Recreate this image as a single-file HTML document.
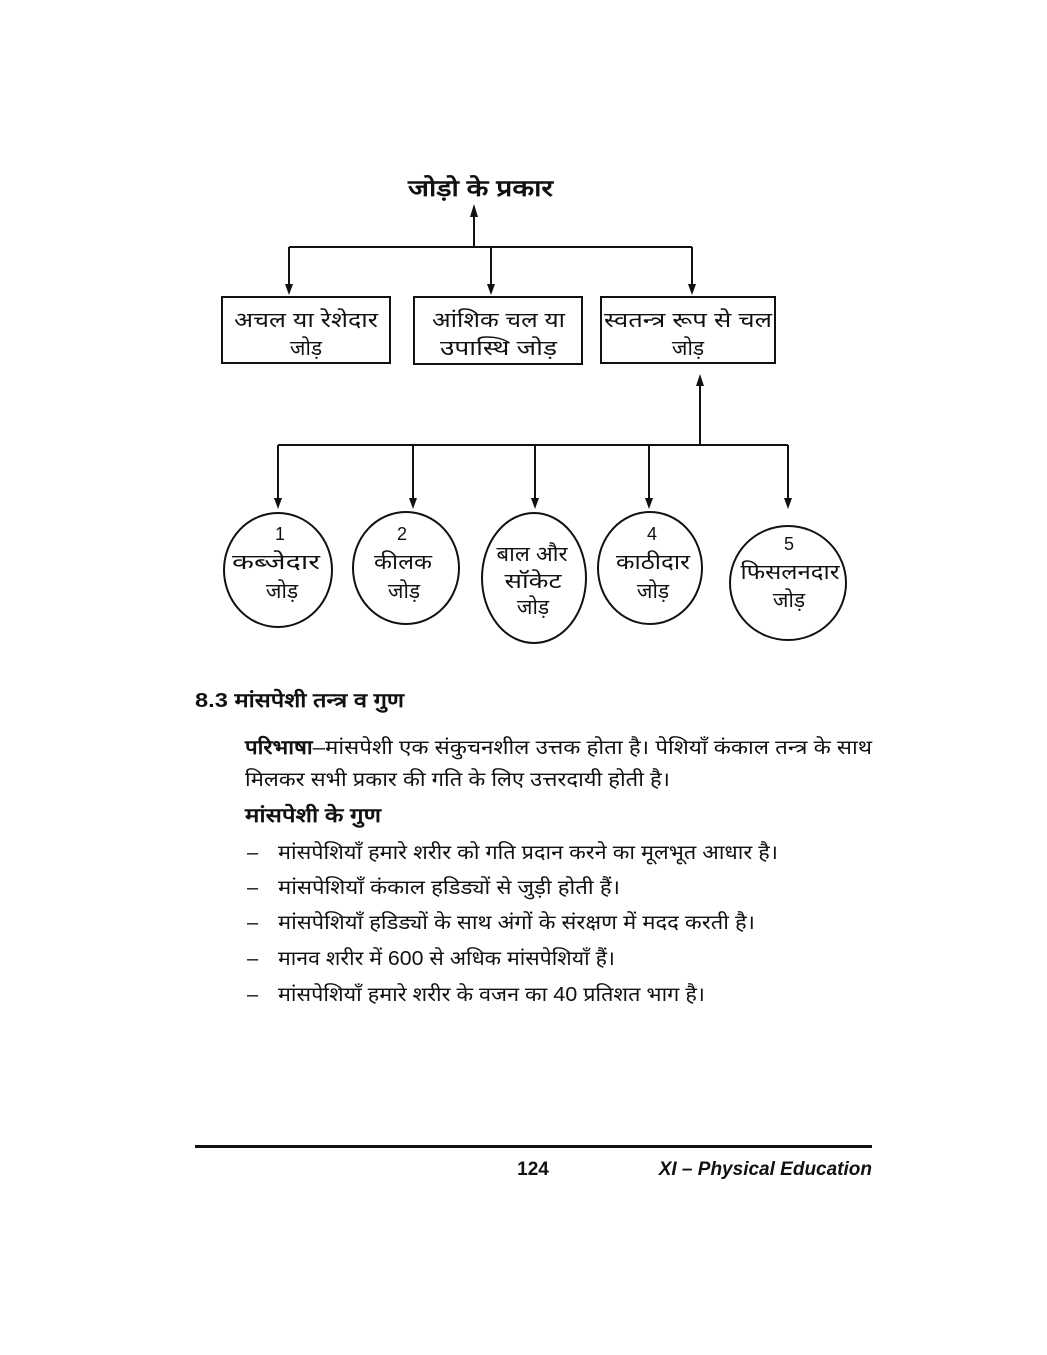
<!DOCTYPE html>
<html><head><meta charset="utf-8">
<style>
html,body{margin:0;padding:0;background:#fff;}
svg{display:block;}
text{font-family:"Liberation Sans","DejaVu Sans",sans-serif;fill:#111;}
.b{font-weight:bold;}
</style></head>
<body>
<svg width="1047" height="1355" viewBox="0 0 1047 1355" xmlns="http://www.w3.org/2000/svg">
<g stroke="#111" stroke-width="2" fill="none">
<line x1="474" y1="247" x2="474" y2="210"/>
<line x1="289" y1="247" x2="692" y2="247"/>
<line x1="289" y1="247" x2="289" y2="288"/>
<line x1="491" y1="247" x2="491" y2="288"/>
<line x1="692" y1="247" x2="692" y2="288"/>
<rect x="222" y="297" width="168" height="66"/>
<rect x="414" y="297" width="168" height="67"/>
<rect x="601" y="297" width="174" height="66"/>
<line x1="700" y1="445" x2="700" y2="380"/>
<line x1="278" y1="445" x2="788" y2="445"/>
<line x1="278" y1="445" x2="278" y2="500"/>
<line x1="413" y1="445" x2="413" y2="500"/>
<line x1="535" y1="445" x2="535" y2="500"/>
<line x1="649" y1="445" x2="649" y2="500"/>
<line x1="788" y1="445" x2="788" y2="500"/>
<ellipse cx="278" cy="570" rx="54" ry="57"/>
<ellipse cx="406" cy="568" rx="53" ry="56"/>
<ellipse cx="534" cy="578" rx="52" ry="65"/>
<ellipse cx="650" cy="568" rx="52" ry="56"/>
<ellipse cx="788" cy="583" rx="58" ry="57"/>
</g>
<g fill="#111">
<path d="M470,217 L478,217 L474,204 Z"/>
<path d="M285,284 L293,284 L289,295 Z"/>
<path d="M487,284 L495,284 L491,295 Z"/>
<path d="M688,284 L696,284 L692,295 Z"/>
<path d="M696,386 L704,386 L700,374 Z"/>
<path d="M274,498 L282,498 L278,509 Z"/>
<path d="M409,498 L417,498 L413,509 Z"/>
<path d="M531,498 L539,498 L535,509 Z"/>
<path d="M645,498 L653,498 L649,509 Z"/>
<path d="M784,498 L792,498 L788,509 Z"/>
</g>
<text x="408" y="196" font-size="23" class="b" textLength="145" lengthAdjust="spacingAndGlyphs">जोड़ो के प्रकार</text>
<g font-size="21">
<text x="234" y="327" textLength="144" lengthAdjust="spacingAndGlyphs">अचल या रेशेदार</text>
<text x="306" y="355" text-anchor="middle">जोड़</text>
<text x="432" y="327" textLength="133" lengthAdjust="spacingAndGlyphs">आंशिक चल या</text>
<text x="440" y="355" textLength="117" lengthAdjust="spacingAndGlyphs">उपास्थि जोड़</text>
<text x="604" y="327" textLength="168" lengthAdjust="spacingAndGlyphs">स्वतन्त्र रूप से चल</text>
<text x="688" y="355" text-anchor="middle">जोड़</text>
</g>
<g font-size="21" text-anchor="middle">
<text x="280" y="540" font-size="18">1</text>
<text x="276" y="569" textLength="88" lengthAdjust="spacingAndGlyphs">कब्जेदार</text>
<text x="282" y="598">जोड़</text>
<text x="402" y="540" font-size="18">2</text>
<text x="403" y="569" textLength="58" lengthAdjust="spacingAndGlyphs">कीलक</text>
<text x="404" y="598">जोड़</text>
<text x="532" y="561" textLength="71" lengthAdjust="spacingAndGlyphs">बाल और</text>
<text x="533" y="588" textLength="57" lengthAdjust="spacingAndGlyphs">सॉकेट</text>
<text x="533" y="614">जोड़</text>
<text x="652" y="540" font-size="18">4</text>
<text x="653" y="569" textLength="74" lengthAdjust="spacingAndGlyphs">काठीदार</text>
<text x="653" y="598">जोड़</text>
<text x="789" y="550" font-size="18">5</text>
<text x="790" y="579" textLength="99" lengthAdjust="spacingAndGlyphs">फिसलनदार</text>
<text x="789" y="607">जोड़</text>
</g>
<text x="195" y="707" font-size="20" class="b" textLength="209" lengthAdjust="spacingAndGlyphs">8.3 मांसपेशी तन्त्र व गुण</text>
<g font-size="20">
<text x="245" y="754" textLength="627" lengthAdjust="spacingAndGlyphs"><tspan class="b">परिभाषा</tspan>–मांसपेशी एक संकुचनशील उत्तक होता है। पेशियाँ कंकाल तन्त्र के साथ</text>
<text x="245" y="786" textLength="425" lengthAdjust="spacingAndGlyphs">मिलकर सभी प्रकार की गति के लिए उत्तरदायी होती है।</text>
<text x="245" y="822" class="b" textLength="136" lengthAdjust="spacingAndGlyphs">मांसपेशी के गुण</text>
<text x="247" y="859">–</text><text x="278" y="859" textLength="500" lengthAdjust="spacingAndGlyphs">मांसपेशियाँ हमारे शरीर को गति प्रदान करने का मूलभूत आधार है।</text>
<text x="247" y="894">–</text><text x="278" y="894" textLength="342" lengthAdjust="spacingAndGlyphs">मांसपेशियाँ कंकाल हडिड्यों से जुड़ी होती हैं।</text>
<text x="247" y="929">–</text><text x="278" y="929" textLength="477" lengthAdjust="spacingAndGlyphs">मांसपेशियाँ हडिड्यों के साथ अंगों के संरक्षण में मदद करती है।</text>
<text x="247" y="965">–</text><text x="278" y="965" textLength="337" lengthAdjust="spacingAndGlyphs">मानव शरीर में 600 से अधिक मांसपेशियाँ हैं।</text>
<text x="247" y="1001">–</text><text x="278" y="1001" textLength="427" lengthAdjust="spacingAndGlyphs">मांसपेशियाँ हमारे शरीर के वजन का 40 प्रतिशत भाग है।</text>
</g>
<rect x="195" y="1145" width="677" height="3" fill="#111"/>
<text x="533" y="1175" font-size="19" class="b" text-anchor="middle">124</text>
<text x="872" y="1175" font-size="19" class="b" font-style="italic" text-anchor="end">XI – Physical Education</text>
</svg>
</body></html>
